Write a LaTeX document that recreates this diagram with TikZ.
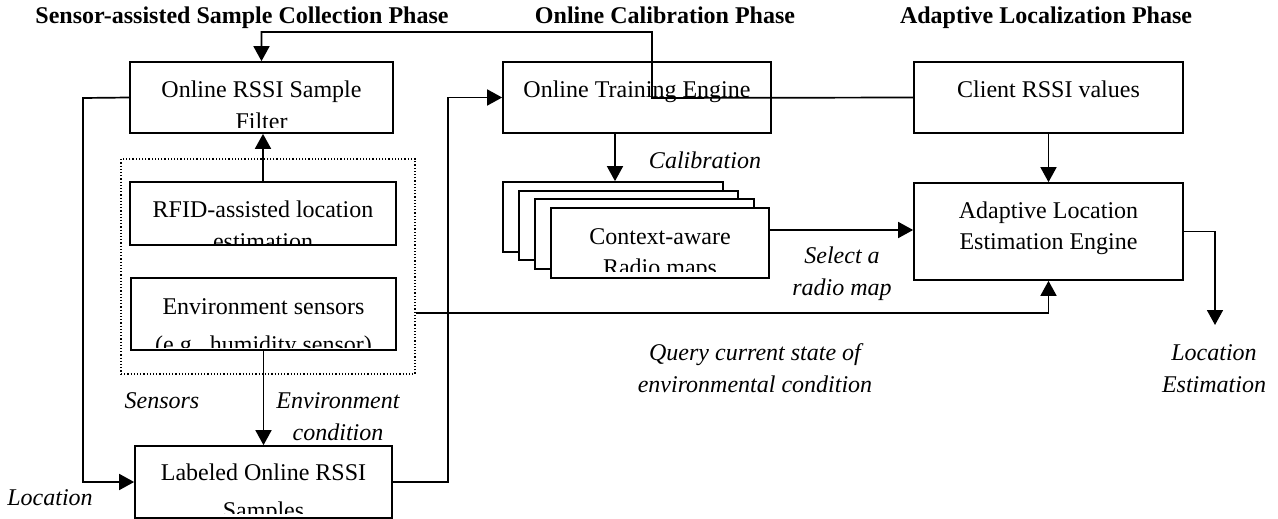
\documentclass[tikz,border=0pt]{standalone}
\usepackage{fontspec}
\setmainfont{Liberation Serif}
\usetikzlibrary{arrows.meta}
\tikzset{
  boxnode/.style={draw, line width=1.7pt, fill=white, inner sep=0pt},
  txt/.style={font=\fontsize{24}{29}\selectfont, inner sep=0pt, anchor=base},
  lbl/.style={font=\fontsize{24}{29}\selectfont\itshape, inner sep=0pt, anchor=base},
  ttl/.style={font=\fontsize{24}{29}\selectfont\bfseries, inner sep=0pt, anchor=base},
  arr/.style={line width=1.7pt, -{Triangle[length=15pt,width=16pt]}},
  ln/.style={line width=1.7pt},
  dotbox/.style={draw, dotted, line width=1.2pt, inner sep=0pt}
}
\begin{document}
\begin{tikzpicture}[x=1pt,y=-1pt]
\useasboundingbox (0,0) rectangle (1278,519);

% titles
\node[ttl] (t1) at (242,24) {Sensor-assisted Sample Collection Phase};
\node[ttl] (t2) at (665,24) {Online Calibration Phase};
\node[ttl] (t3) at (1046,24) {Adaptive Localization Phase};

% dotted sensor group
\node[dotbox, minimum width=294pt, minimum height=215pt] (dots) at (268,266.5) {};

% boxes
\node[boxnode, minimum width=263pt, minimum height=71pt] (filter) at (261.5,97.5) {};
\node[boxnode, minimum width=268pt, minimum height=71pt] (training) at (637,97.5) {};
\node[boxnode, minimum width=269pt, minimum height=71pt] (client) at (1048.5,97.5) {};
\node[boxnode, minimum width=269pt, minimum height=97pt] (adaptive) at (1048.5,231.5) {};
\node[boxnode, minimum width=266pt, minimum height=63pt] (rfid) at (263,213.5) {};
\node[boxnode, minimum width=265pt, minimum height=72pt] (env) at (263.5,314) {};
\node[boxnode, minimum width=257pt, minimum height=72pt] (labeled) at (263.5,482) {};
\node[boxnode, minimum width=220pt, minimum height=70pt] (map1) at (613,217) {};
\node[boxnode, minimum width=219pt, minimum height=69pt] (map2) at (628.5,225.5) {};
\node[boxnode, minimum width=219pt, minimum height=70pt] (map3) at (644.5,234) {};
\node[boxnode, minimum width=218pt, minimum height=70pt] (map4) at (660,243) {};

% box texts (clipped like the original text boxes)
\begin{scope}
\clip (130,62) rectangle (393,127.5);
\node[txt] (filter1) at (261.5,97) {Online RSSI Sample};
\node[txt] (filter2) at (261.5,129) {Filter};
\end{scope}
\node[txt] (training1) at (637,97) {Online Training Engine};
\node[txt] (client1) at (1048.5,97) {Client RSSI values};
\node[txt] (adaptive1) at (1048.5,218) {Adaptive Location};
\node[txt] (adaptive2) at (1048.5,249) {Estimation Engine};
\begin{scope}
\clip (130,182) rectangle (396,244);
\node[txt] (rfid1) at (263,217) {RFID-assisted location};
\node[txt] (rfid2) at (263,249) {estimation};
\end{scope}
\begin{scope}
\clip (131,278) rectangle (396,347.5);
\node[txt] (env1) at (263.5,314) {Environment sensors};
\node[txt] (env2) at (263.5,352) {(e.g., humidity sensor)};
\end{scope}
\begin{scope}
\clip (135,446) rectangle (392,513);
\node[txt] (lab1) at (263.5,480) {Labeled Online RSSI};
\node[txt] (lab2) at (263.5,518) {Samples};
\end{scope}
\begin{scope}
\clip (551,208) rectangle (769,271);
\node[txt] (map1t) at (660,244) {Context-aware};
\node[txt] (map2t) at (660,275) {Radio maps};
\end{scope}

% helper coordinates
\coordinate (c615) at (615,0);
\coordinate (y230) at (0,230);
\coordinate (y313) at (0,313);
\coordinate (locout) at (1215,325);

% connectors
\draw[arr] (client.west) -- (652,98) -- (652,32) -| (filter.north);
\draw[arr] (filter.west) -- (83,98) |- (labeled.west);
\draw[arr] (rfid.north) -- (rfid.north |- filter.south);
\draw[arr] (env.south) -- (env.south |- labeled.north);
\draw[arr] (labeled.east) -- (448,482) |- (training.west);
\draw[arr] (training.south -| c615) -- (map1.north -| c615);
\draw[arr] (map4.east |- y230) -- (adaptive.west |- y230);
\draw[arr] (dots.east |- y313) -| (adaptive.south);
\draw[arr] (client.south) -- (adaptive.north);
\draw[arr] (adaptive.east) -| (locout);

% labels
\node[lbl] (lcal) at (705,168) {Calibration};
\node[lbl] (lsens) at (162,408) {Sensors};
\node[lbl] (lenv1) at (338,408) {Environment};
\node[lbl] (lenv2) at (338,440) {condition};
\node[lbl] (lsel1) at (842,263) {Select a};
\node[lbl] (lsel2) at (842,295) {radio map};
\node[lbl] (lq1) at (755,360) {Query current state of};
\node[lbl] (lq2) at (755,392) {environmental condition};
\node[lbl] (lloc1) at (1214,360) {Location};
\node[lbl] (lloc2) at (1214,392) {Estimation};
\node[lbl] (lloc) at (50,505) {Location};
\end{tikzpicture}
\end{document}
